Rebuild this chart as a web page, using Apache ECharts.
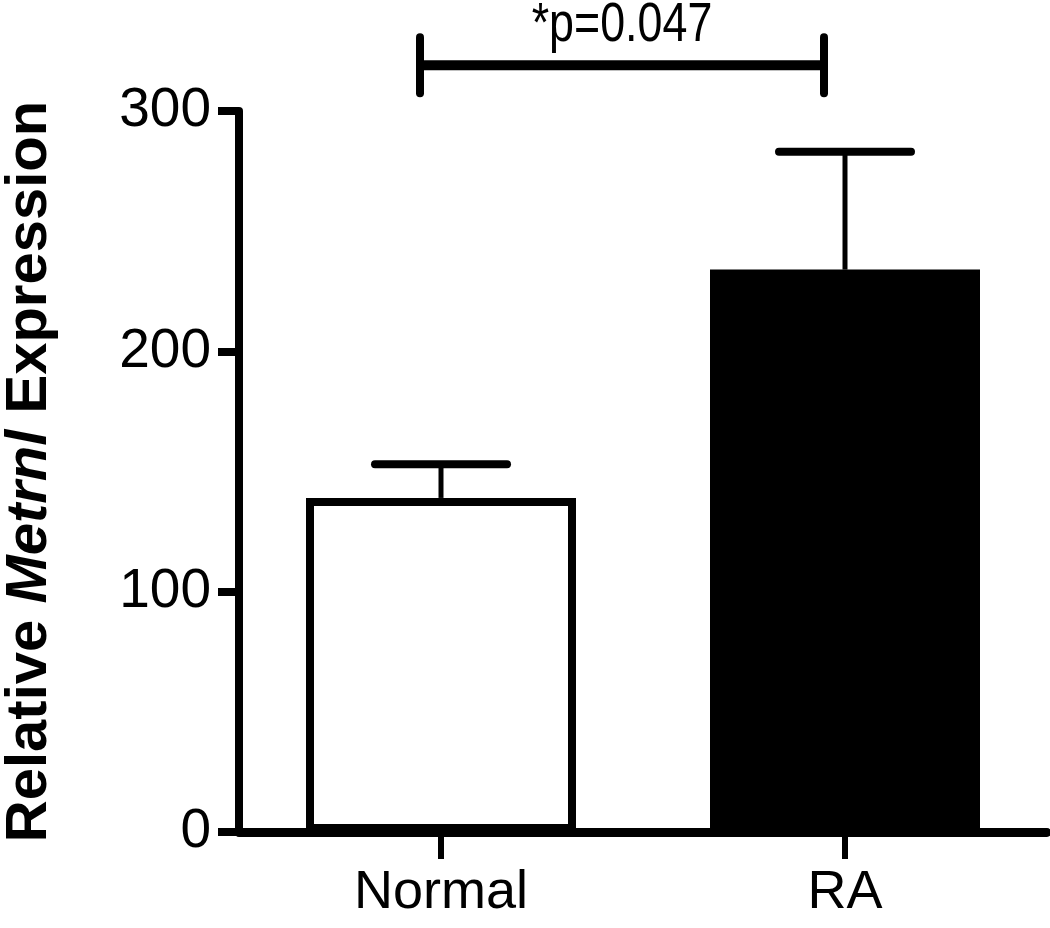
<!DOCTYPE html>
<html>
<head>
<meta charset="utf-8">
<script src="https://cdn.jsdelivr.net/npm/echarts@6/dist/echarts.min.js"></script>
<style>
html,body{margin:0;padding:0;background:#fff;}
#chart{width:1050px;height:928px;}
</style>
</head>
<body>
<div id="chart"></div>
<script>
// ---- data ----
const categories = ['Normal', 'RA'];
const means = [139, 234];
const sems = [14, 49];
const yTicks = [0, 100, 200, 300];
const sigPair = [0, 1];
const sigLevel = 319;
const sigLabel = '*p=0.047';

// ---- styles ----
const FONT = "'Liberation Sans',Arial,sans-serif";
const fills = ['#ffffff', '#000000'];

const chart = echarts.init(document.getElementById('chart'), null, {renderer: 'canvas'});

const option = {
  animation: false,
  backgroundColor: '#ffffff',
  grid: {left: 239, right: 3, top: 111, bottom: 96, containLabel: false, outerBoundsMode: 'none'},
  xAxis: {
    type: 'category',
    data: categories,
    boundaryGap: true,
    axisLine: {lineStyle: {color: '#000', width: 9}},
    axisTick: {show: true, alignWithLabel: true, length: 27, lineStyle: {color: '#000', width: 6}},
    axisLabel: {margin: 34, fontSize: 54, color: '#000', fontFamily: FONT}
  },
  yAxis: {
    type: 'value',
    min: yTicks[0],
    max: yTicks[yTicks.length - 1],
    interval: yTicks[1] - yTicks[0],
    splitLine: {show: false},
    axisLine: {show: true, lineStyle: {color: '#000', width: 8}},
    axisTick: {show: true, length: 21, lineStyle: {color: '#000', width: 8}},
    axisLabel: {margin: 28, fontSize: 55, color: '#000', fontFamily: FONT},
    name: '{b|Relative }{i|Metrnl}{b| Expression}',
    nameLocation: 'middle',
    nameRotate: 90,
    nameGap: 180,
    nameTextStyle: {
      fontSize: 58, fontWeight: 'bold', color: '#000', fontFamily: FONT,
      rich: {
        b: {fontSize: 58, fontWeight: 'bold', color: '#000', fontFamily: FONT},
        i: {fontSize: 58, fontWeight: 'bold', fontStyle: 'italic', color: '#000', fontFamily: FONT}
      }
    }
  },
  series: [
    {
      type: 'bar',
      barWidth: 270,
      data: means.map((v, i) => ({
        value: v,
        itemStyle: {color: fills[i], borderColor: '#000', borderWidth: 8}
      })),
      z: 3
    },
    {
      type: 'custom',
      z: 2,
      data: means.map((m, i) => [i, m, m + sems[i]]),
      renderItem: function (params, api) {
        const base = api.coord([api.value(0), api.value(1)]);
        const top = api.coord([api.value(0), api.value(2)]);
        return {
          type: 'group',
          children: [
            {type: 'line', shape: {x1: top[0], y1: base[1], x2: top[0], y2: top[1]},
             style: {stroke: '#000', lineWidth: 5}},
            {type: 'line', shape: {x1: top[0] - 66, y1: top[1], x2: top[0] + 66, y2: top[1]},
             style: {stroke: '#000', lineWidth: 8, lineCap: 'round'}}
          ]
        };
      }
    },
    {
      type: 'custom',
      z: 5,
      data: [[sigPair[0], sigPair[1], sigLevel]],
      renderItem: function (params, api) {
        const p0 = api.coord([api.value(0), api.value(2)]);
        const p1 = api.coord([api.value(1), api.value(2)]);
        const x0 = p0[0] - 21, x1 = p1[0] - 21, y = p0[1];
        return {
          type: 'group',
          children: [
            {type: 'line', shape: {x1: x0, y1: y, x2: x1, y2: y}, style: {stroke: '#000', lineWidth: 10}},
            {type: 'line', shape: {x1: x0, y1: y - 28, x2: x0, y2: y + 28}, style: {stroke: '#000', lineWidth: 8, lineCap: 'round'}},
            {type: 'line', shape: {x1: x1, y1: y - 28, x2: x1, y2: y + 28}, style: {stroke: '#000', lineWidth: 8, lineCap: 'round'}},
            {type: 'text', x: (x0 + x1) / 2, y: y - 40, scaleX: 0.8,
             style: {text: sigLabel, fill: '#000', fontSize: 56, fontFamily: FONT, align: 'center', verticalAlign: 'middle'}}
          ]
        };
      }
    }
  ]
};
chart.setOption(option);
</script>
</body>
</html>
